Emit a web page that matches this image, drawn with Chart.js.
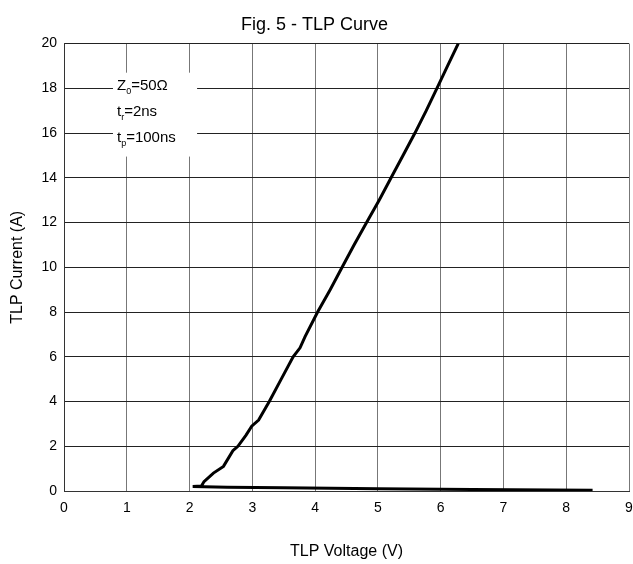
<!DOCTYPE html>
<html>
<head>
<meta charset="utf-8">
<script src="https://cdn.jsdelivr.net/npm/chart.js@4.4.0/dist/chart.umd.min.js"></script>
<style>
  html, body { margin: 0; padding: 0; background: #fff; }
  #wrap { width: 633px; height: 564px; }
</style>
</head>
<body>
<div id="wrap"><canvas id="tlp"></canvas></div>
<script>
// TLP curve (volts, amps)
const voltage = [8.42, 6.5, 5.0, 3.5, 2.6, 2.05, 2.19, 2.23, 2.38, 2.54, 2.69, 2.77, 2.9, 2.99, 3.1, 3.27, 3.46, 3.65, 3.76, 3.84, 4.04, 4.24, 4.43, 4.62, 4.82, 5.02, 5.21, 5.4, 5.59, 5.77, 5.94, 6.11, 6.28];
const current = [0.03, 0.07, 0.1, 0.14, 0.17, 0.2, 0.22, 0.42, 0.8, 1.1, 1.8, 2.0, 2.5, 2.9, 3.17, 4.0, 5.0, 6.0, 6.4, 6.9, 8.0, 9.0, 10.0, 11.0, 12.0, 13.0, 14.0, 15.0, 16.0, 17.0, 18.0, 19.0, 20.0];

const xTicks = [0, 1, 2, 3, 4, 5, 6, 7, 8, 9];
const yTicks = [0, 2, 4, 6, 8, 10, 12, 14, 16, 18, 20];

// test conditions box
const condLines = [['Z', '0', '=50\u03A9'], ['t', 'r', '=2ns'], ['t', 'p', '=100ns']];

const FONT = '"Liberation Sans", Arial, sans-serif';

const condBox = {
  id: 'condBox',
  afterDatasetsDraw(chart) {
    const {ctx, scales: {x, y}} = chart;
    const left = x.getPixelForValue(0.78), right = x.getPixelForValue(2.12);
    const top = y.getPixelForValue(18.7), bottom = y.getPixelForValue(14.95);
    ctx.save();
    ctx.fillStyle = '#fff';
    ctx.fillRect(left, top, right - left, bottom - top);
    ctx.fillStyle = '#000';
    ctx.textBaseline = 'middle';
    condLines.forEach((l, i) => {
      let px = left + 4;
      const py = top + 13 + i * 26;
      ctx.font = '15px ' + FONT;
      ctx.fillText(l[0], px, py);
      px += ctx.measureText(l[0]).width;
      ctx.font = '9px ' + FONT;
      ctx.fillText(l[1], px, py + 6);
      px += ctx.measureText(l[1]).width;
      ctx.font = '15px ' + FONT;
      ctx.fillText(l[2], px, py);
    });
    ctx.restore();
  }
};

new Chart(document.getElementById('tlp'), {
  type: 'scatter',
  data: {
    datasets: [{
      data: voltage.map((v, i) => ({x: v, y: current[i]})),
      showLine: true,
      borderColor: '#000',
      borderWidth: 3,
      pointRadius: 0,
      tension: 0,
      fill: false
    }]
  },
  options: {
    responsive: true,
    maintainAspectRatio: false,
    animation: false,
    layout: { padding: { left: 0, right: 4, top: 0, bottom: 0 } },
    plugins: {
      legend: { display: false },
      tooltip: { enabled: false },
      title: {
        display: true,
        text: 'Fig. 5 - TLP Curve',
        color: '#000',
        font: { family: FONT, size: 18, weight: 'normal' },
        padding: { top: 14, bottom: 8 }
      }
    },
    scales: {
      x: {
        type: 'linear',
        min: 0, max: 9,
        afterBuildTicks: s => { s.ticks = xTicks.map(v => ({value: v})); },
        afterFit: s => { s.height = 73; s.paddingRight = 0; s.paddingLeft = 0; },
        border: { color: '#333', width: 1 },
        grid: { color: '#777', drawTicks: false },
        ticks: { color: '#000', padding: 9, font: { family: FONT, size: 14 } },
        title: { display: true, text: 'TLP Voltage (V)', color: '#000', font: { family: FONT, size: 16 }, padding: { top: 4, bottom: 3 } }
      },
      y: {
        type: 'linear',
        min: 0, max: 20,
        afterBuildTicks: s => { s.ticks = yTicks.map(v => ({value: v})); },
        afterFit: s => { s.width = 64; },
        border: { color: '#333', width: 1 },
        grid: { color: '#222', drawTicks: false },
        ticks: { color: '#000', padding: 7, font: { family: FONT, size: 14 } },
        title: { display: true, text: 'TLP Current (A)', color: '#000', font: { family: FONT, size: 16 }, padding: { top: 8, bottom: 4 } }
      }
    }
  },
  plugins: [condBox]
});
</script>
</body>
</html>
